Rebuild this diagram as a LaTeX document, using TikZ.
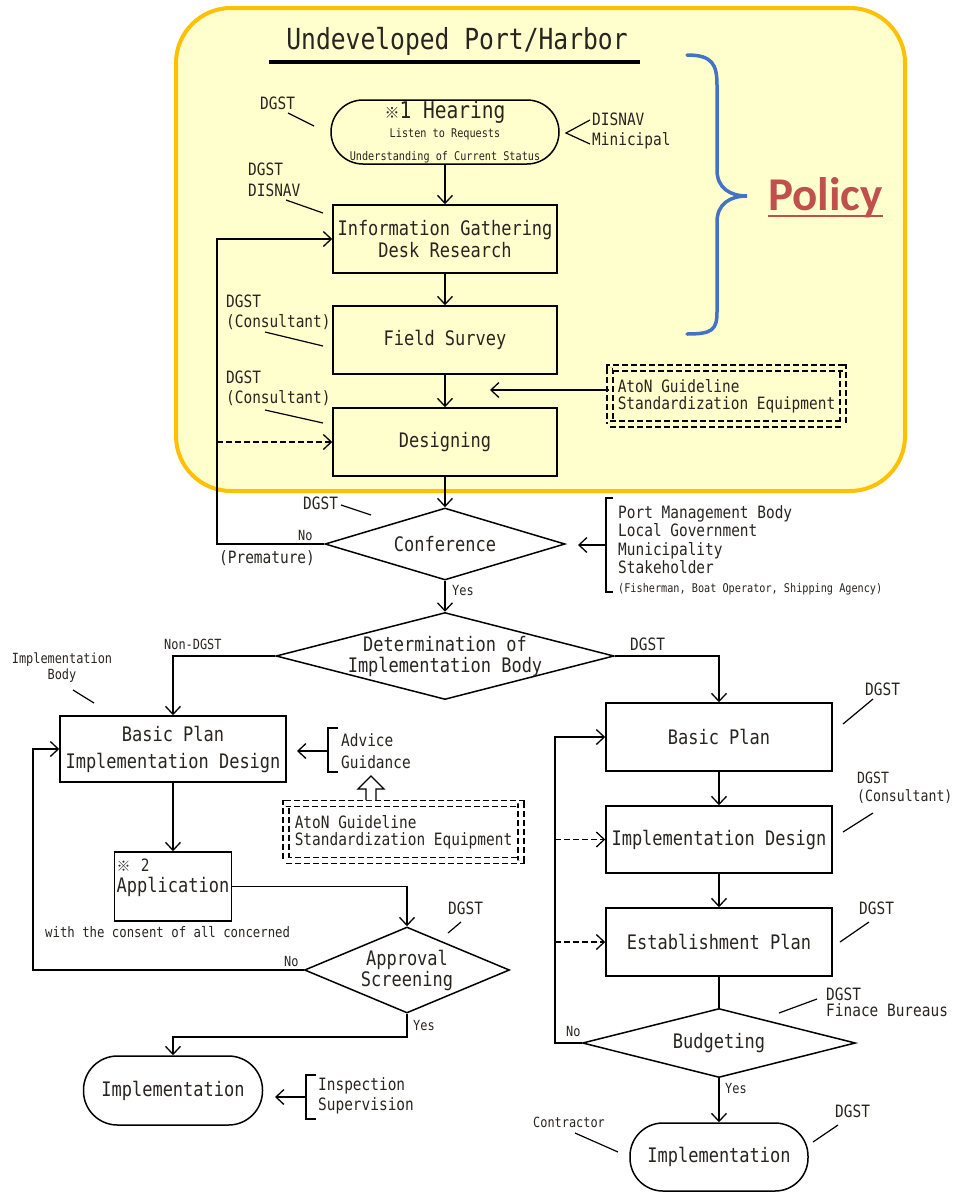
\documentclass[tikz,border=0pt]{standalone}
\usepackage{fontspec}
\usetikzlibrary{arrows.meta,shapes.geometric}
\newfontfamily\gfont[FakeStretch=0.85]{DejaVu Sans Mono}
\newfontfamily\jfont{Noto Sans CJK JP}
\newfontfamily\pfont{Carlito}
\newcommand\gsz[2]{\fontsize{#1}{#2}\selectfont}
\definecolor{ink}{RGB}{40,36,32}
\definecolor{panel}{RGB}{255,255,206}
\definecolor{panelrim}{RGB}{255,192,0}
\definecolor{bracecol}{RGB}{68,114,196}
\definecolor{policyred}{RGB}{192,80,77}
\begin{document}
\begin{tikzpicture}[x=1pt,y=-1pt,
  wire/.style={line width=1.5pt,draw=black},
  arr/.style={wire,-{Straight Barb[length=8pt,width=15pt,line width=1.3pt]}},
  dasharr/.style={arr,dash pattern=on 6pt off 3pt},
  leader/.style={line width=1.2pt},
  box/.style={draw,line width=1.5pt,rectangle,minimum width=224pt,minimum height=68pt,
    inner sep=0pt,align=center,text=ink,font={\gfont\gsz{20}{22}}},
  stadium/.style={box,rounded corners=33pt},
  dia/.style={draw,line width=1.5pt,diamond,inner sep=0pt},
  dialbl/.style={text=ink,align=center,inner sep=0pt,font={\gfont\gsz{20}{21}}},
  lab/.style={text=ink,font={\gfont\gsz{17}{20}},align=left,inner sep=0pt,anchor=west},
  small/.style={lab,font={\gfont\gsz{14}{16}}},
  guide/.style={draw,line width=1.4pt,dash pattern=on 6pt off 3pt,double,double distance=4.5pt,
    rectangle,inner sep=0pt,align=left,text=ink,font={\gfont\gsz{17}{17}}},
]
\useasboundingbox (0,0) rectangle (955,1192);

% yellow policy panel
\node[draw=panelrim,line width=4pt,fill=panel,rounded corners=55pt,
  minimum width=729pt,minimum height=483pt,inner sep=0pt] (panel) at (540.5,249.5) {};

% title
\node[text=ink,font={\gfont\gsz{29}{30}}] (title) at (457,41) {Undeveloped Port/Harbor};
\draw[line width=4pt] (269,62) -- (640,62);

% brace and policy label
\draw[bracecol,line width=3.5pt,line cap=round]
  (687,55) .. controls (712,55) and (717,64) .. (717,85) -- (717,170)
  .. controls (717,188) and (730,196) .. (747,196)
  .. controls (730,196) and (717,204) .. (717,222) -- (717,312)
  .. controls (717,330) and (712,334) .. (687,334);
\node[text=policyred,inner sep=0pt,anchor=base west,font={\pfont\bfseries\gsz{47}{47}}] (policy) at (768,210) {Policy};
\draw[policyred,line width=2.5pt] ([yshift=-6pt]policy.base west) -- ([yshift=-6pt]policy.base east);

% main column
\node[stadium,minimum width=228pt,minimum height=64pt,rounded corners=32pt] (hear) at (445,132)
  {\gsz{23}{24}{\jfont\gsz{15}{15}※}1 Hearing\\[-3pt]\gsz{12}{14}Listen to Requests\\[1pt]\gsz{12}{14}Understanding of Current Status};
\node[box] (info) at (445,239) {Information Gathering\\Desk Research};
\node[box] (field) at (445,340) {Field Survey};
\node[box] (design) at (445,442) {Designing};
\node[dia,minimum width=240pt,minimum height=72pt,label={[dialbl]center:Conference}] (conf) at (445,544) {};
\node[dia,minimum width=338pt,minimum height=87pt,
  label={[dialbl]center:Determination of\\Implementation Body}] (det) at (445,656) {};

% left branch
\node[box,minimum width=226pt,minimum height=66pt,font={\gfont\gsz{20}{27}}] (lbasic) at (173,749) {Basic Plan\\Implementation Design};
\node[box,minimum width=117pt,minimum height=69pt,align=left,font={\gfont\gsz{20}{21}}] (app) at (173,886.5)
  {{\jfont\gsz{14}{14}※} {\gsz{17}{21}2}\\Application\\\mbox{}};
\node[dia,minimum width=205pt,minimum height=86pt,label={[dialbl]center:Approval\\Screening}] (appr) at (407,970) {};
\node[stadium,minimum width=179pt,minimum height=69pt,rounded corners=34pt] (limpl) at (173,1090.5) {Implementation};

% right branch
\node[box,minimum width=226pt] (rbasic) at (719,737) {Basic Plan};
\node[box,minimum width=226pt,minimum height=67pt] (rdes) at (719,839.5) {Implementation Design};
\node[box,minimum width=226pt] (rest) at (719,942) {Establishment Plan};
\node[dia,minimum width=273pt,minimum height=69pt,label={[dialbl]center:Budgeting}] (budg) at (719,1043) {};
\node[stadium,minimum width=178pt,minimum height=68pt,rounded corners=33pt] (rimpl) at (719,1157) {Implementation};

% guideline boxes
\node[guide,double=panel,minimum width=233pt,minimum height=56pt] (aton1) at (726.5,396)
  {AtoN Guideline\\Standardization Equipment};
\node[guide,double=white,minimum width=235pt,minimum height=57pt] (aton2) at (403.5,832)
  {AtoN Guideline\\Standardization Equipment};

% loop-back rails
\coordinate (railA) at (217,0);
\coordinate (railB) at (33,0);
\coordinate (railC) at (555,0);

% main flow
\draw[arr] (hear) -- (info);
\draw[arr] (info) -- (field);
\draw[arr] (field) -- (design);
\draw[arr] (design) -- (conf);
\draw[arr] (conf.west) -- (conf.west -| railA) |- (info.west);
\draw[dasharr] (design.west -| railA) -- (design.west);
\draw[arr] (conf) -- (det);
\coordinate (aton1tip) at (490,390);
\draw[arr] (aton1.west |- aton1tip) -- (aton1tip);

% left flow
\draw[arr] (det.west) -| (lbasic.north);
\draw[arr] (lbasic) -- (app);
\draw[arr] (app.east) -| (appr.north);
\draw[arr] (appr.west) -- (appr.west -| railB) |- (lbasic.west);
\draw[arr] (appr.south) -- ++(0,23) -| (limpl.north);

% right flow
\draw[arr] (det.east) -| (rbasic.north);
\draw[arr] (rbasic) -- (rdes);
\draw[arr] (rdes) -- (rest);
\draw[wire] (rest) -- (budg);
\draw[arr] (budg.west) -- (budg.west -| railC) |- (rbasic.west);
\draw[dasharr] (rdes.west -| railC) -- (rdes.west);
\draw[dasharr] (rest.west -| railC) -- (rest.west);
\draw[arr] (budg) -- (rimpl);

% stakeholder bracket
\draw[wire] (613,498) -- (606,498) -- (606,592) -- (613,592);
\coordinate (stkB) at (606,545);
\coordinate (stkT) at (578,545);
\draw[arr] (stkB) -- (stkT);
\node[lab,font={\gfont\gsz{17}{18.5}}] (stk) at (618,550)
  {Port Management Body\\Local Government\\Municipality\\Stakeholder\\{\gsz{12}{18}(Fisherman, Boat Operator, Shipping Agency)}};

% advice bracket
\draw[wire] (338,728) -- (328,728) -- (328,772) -- (338,772);
\coordinate (advB) at (328,751);
\coordinate (advT) at (297,751);
\draw[arr] (advB) -- (advT);
\node[lab,font={\gfont\gsz{17}{22}}] (adv) at (341,751) {Advice\\Guidance};
\draw[line width=1.3pt,fill=white] (366,800) -- (366,789) -- (358,789) -- (371,776) -- (384,789) -- (376,789) -- (376,800);

% inspection bracket
\draw[wire] (316,1075) -- (306,1075) -- (306,1119) -- (316,1119);
\coordinate (insB) at (306,1097);
\coordinate (insT) at (275,1097);
\draw[arr] (insB) -- (insT);
\node[lab,font={\gfont\gsz{17}{20}}] (ins) at (318,1096) {Inspection\\Supervision};

% DISNAV pointer
\draw[leader] (590,120) -- (566,133) -- (590,144);
\node[lab] (disnav) at (592,131) {DISNAV\\Minicipal};

% actor labels
\node[lab] (l1) at (260,103) {DGST};
\draw[leader] (288,113) -- (314,126);
\node[lab,font={\gfont\gsz{17}{21}}] (l2) at (248,179.5) {DGST\\DISNAV};
\draw[leader] (286,200) -- (323,213);
\node[lab] (l3) at (226,312) {DGST\\(Consultant)};
\draw[leader] (265,332) -- (323,346);
\node[lab] (l4) at (226,388) {DGST\\(Consultant)};
\draw[leader] (265,410) -- (323,423);
\node[lab] (l5) at (303,503) {DGST};
\draw[leader] (341,505) -- (371,515);
\node[small] (no1) at (298,535) {No};
\node[lab] (prem) at (219,558) {(Premature)};
\node[small] (yes1) at (452,590) {Yes};
\node[small] (nondgst) at (164,644) {Non-DGST};
\node[lab] (dgstr) at (630,644) {DGST};
\node[small,align=center,anchor=center] (ibody) at (62,668) {Implementation\\Body};
\draw[leader] (73,690) -- (94,703);
\node[small,font={\gfont\gsz{14.5}{16}}] (consent) at (45,932) {with the consent of all concerned};
\node[lab] (l6) at (448,908) {DGST};
\draw[leader] (448,933) -- (461,922);
\node[small] (no2) at (284,961) {No};
\node[small] (yes2) at (413,1025) {Yes};
\node[lab] (r1) at (865,689) {DGST};
\draw[leader] (843,724) -- (873,699);
\node[lab,font={\gfont\gsz{15.5}{18}}] (r2) at (857,788) {DGST\\(Consultant)};
\draw[leader] (843,832) -- (873,813);
\node[lab] (r3) at (859,908) {DGST};
\draw[leader] (840,942) -- (869,922);
\node[lab,font={\gfont\gsz{17}{16}}] (r4) at (826,1002) {DGST\\Finace Bureaus};
\draw[leader] (779,1013) -- (817,999);
\node[small] (no3) at (566,1031) {No};
\node[small] (yes3) at (725,1088) {Yes};
\node[small] (contr) at (533,1122) {Contractor};
\draw[leader] (575,1133) -- (618,1152);
\node[lab] (r5) at (835,1111) {DGST};
\draw[leader] (813,1142) -- (838,1125);
\end{tikzpicture}
\end{document}
